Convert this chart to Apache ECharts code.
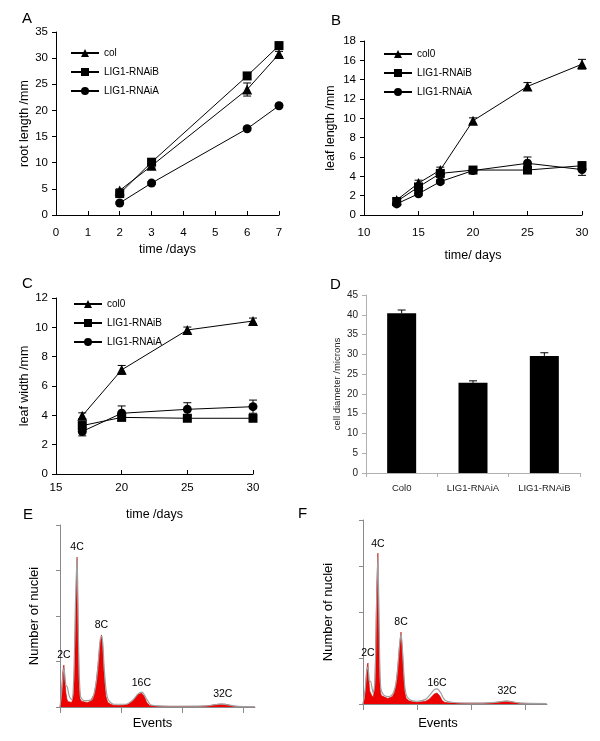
<!DOCTYPE html>
<html>
<head>
<meta charset="utf-8">
<script src="https://cdn.jsdelivr.net/npm/echarts@6/dist/echarts.min.js"></script>
<style>html,body{margin:0;padding:0;background:#fff}#c{width:600px;height:741px}</style>
</head>
<body>
<div id="c"></div>
<script>
// ---------- Panel A: root length ----------
const A_days = [2, 3, 6, 7];
const A_col = [4.7, 9.4, 24.0, 30.8];
const A_col_err = [0.3, 0.4, 1.25, 0.5];
const A_iB = [4.1, 10.1, 26.6, 32.4];
const A_iB_err = [0.3, 0.4, 0.5, 0.5];
const A_iA = [2.3, 6.1, 16.5, 20.9];
const A_iA_err = [0.2, 0.3, 0.3, 0.3];

// ---------- Panel B: leaf length ----------
const B_days = [13, 15, 17, 20, 25, 30];
const B_col0 = [1.55, 3.3, 4.65, 9.75, 13.3, 15.6];
const B_col0_err = [0.2, 0.3, 0.3, 0.3, 0.4, 0.5];
const B_iB = [1.4, 2.9, 4.3, 4.65, 4.65, 5.1];
const B_iB_err = [0.2, 0.3, 0.3, 0.3, 0.3, 0.4];
const B_iA = [1.15, 2.2, 3.45, 4.6, 5.35, 4.7];
const B_iA_err = [0.2, 0.2, 0.2, 0.3, 0.65, 0.6];

// ---------- Panel C: leaf width ----------
const C_days = [17, 20, 25, 30];
const C_col0 = [3.97, 7.1, 9.82, 10.43];
const C_col0_err = [0.2, 0.3, 0.2, 0.2];
const C_iB = [3.3, 3.86, 3.8, 3.8];
const C_iB_err = [0.3, 0.2, 0.2, 0.2];
const C_iA = [2.9, 4.14, 4.41, 4.59];
const C_iA_err = [0.3, 0.5, 0.45, 0.45];

// ---------- Panel D: cell diameter ----------
const D_cats = ['Col0', 'LIG1-RNAiA', 'LIG1-RNAiB'];
const D_vals = [40.4, 22.8, 29.6];
const D_err = [0.8, 0.5, 0.8];

// ---------- Panel E: ploidy histogram ----------
const E_channel = [0,4,8,12,16,20,24,28,32,40,48,52,56,60,65,70,74,78,82,88,100,112,124,132,140,148,156,164,170,175,181,188,196,208,220,240,260,280,296,308,320,334,345,356,368,400,480,560,600,632,656,676,690,710,740,800];
const E_count   = [0,20,120,200,231,150,80,45,30,25,25,40,70,220,550,824,450,120,45,32,28,25,30,40,70,130,230,350,396,330,180,60,25,15,10,8,10,15,30,50,68,77,60,25,8,4,3,3,5,12,16,16,12,4,2,1];
const E_fitChannel = [0,8,16,24,30,38,48,56,64,70,76,84,100,130,150,165,172,182,195,220,270,300,320,336,355,375,450,600,660,720,800];
const E_fitCount   = [0,100,215,120,110,60,40,150,600,820,350,60,35,40,150,370,390,200,50,15,15,40,72,82,45,10,4,6,16,5,1];

// ---------- Panel F: ploidy histogram ----------
const F_channel = [0,8,14,19,23,27,31,35,39,43,47,51,55,59,64,69,73,77,81,86,95,105,115,125,135,145,152,160,168,176,182,188,194,200,212,230,250,270,290,305,318,330,343,355,367,380,420,480,550,600,630,650,667,685,705,730,780,850];
const F_count   = [0,30,120,200,223,130,70,60,50,40,35,40,90,300,650,820,500,150,60,45,40,35,30,35,40,60,100,180,300,391,300,160,60,30,18,12,10,12,15,25,40,55,60,45,18,8,5,4,4,6,10,14,16,14,8,3,2,1];
const F_fitChannel = [0,10,20,25,30,35,40,47,55,62,69,75,82,95,120,140,155,170,176,185,195,210,250,290,310,330,343,360,380,420,500,600,660,720,850];
const F_fitCount   = [0,80,200,180,120,125,100,60,120,500,800,400,90,50,40,60,130,330,380,250,80,30,15,25,50,78,82,60,20,8,5,8,16,6,2];

const ploidy = ['2C', '4C', '8C', '16C', '32C'];
const E_peakCh = [16, 70, 170, 334, 668];
const E_peakCount = [231, 824, 396, 77, 16];
const F_peakCh = [23, 69, 176, 343, 667];
const F_peakCount = [223, 820, 391, 60, 16];

const FONT = 'Liberation Sans, Arial, Helvetica, sans-serif';
const chart = echarts.init(document.getElementById('c'), null, {renderer: 'canvas'});

function pairs(xs, ys) { return xs.map((x, i) => [x, ys[i]]); }
function triples(xs, ys, es) { return xs.map((x, i) => [x, ys[i], es[i]]); }

function errRender(params, api) {
  const x = api.value(0), y = api.value(1), e = api.value(2);
  const top = api.coord([x, y + e]);
  const bot = api.coord([x, y - e]);
  const w = 4;
  const st = {stroke: '#000', lineWidth: 1};
  return {type: 'group', children: [
    {type: 'line', shape: {x1: top[0], y1: top[1], x2: bot[0], y2: bot[1]}, style: st},
    {type: 'line', shape: {x1: top[0] - w, y1: top[1], x2: top[0] + w, y2: top[1]}, style: st},
    {type: 'line', shape: {x1: bot[0] - w, y1: bot[1], x2: bot[0] + w, y2: bot[1]}, style: st}
  ]};
}
function barErrRender(params, api) {
  const x = api.value(0), y = api.value(1), e = api.value(2);
  const top = api.coord([x, y + e]);
  const mid = api.coord([x, y]);
  const w = 4;
  const st = {stroke: '#000', lineWidth: 1};
  return {type: 'group', children: [
    {type: 'line', shape: {x1: top[0], y1: top[1], x2: mid[0], y2: mid[1]}, style: st},
    {type: 'line', shape: {x1: top[0] - w, y1: top[1], x2: top[0] + w, y2: top[1]}, style: st}
  ]};
}

function lineSeries(name, xi, xs, ys, sym, size) {
  return {
    type: 'line', name: name, xAxisIndex: xi, yAxisIndex: xi,
    data: pairs(xs, ys), symbol: sym, symbolSize: size, showSymbol: true,
    itemStyle: {color: '#000'}, lineStyle: {color: '#000', width: 1},
    emphasis: {disabled: true}, z: 3
  };
}
function errSeries(xi, xs, ys, es) {
  return {
    type: 'custom', xAxisIndex: xi, yAxisIndex: xi, renderItem: errRender,
    data: triples(xs, ys, es), encode: {x: 0, y: 1}, z: 2, silent: true
  };
}

const axisBlack = {lineStyle: {color: '#000', width: 1}};
const labelStyle = {color: '#000', fontSize: 11.5, fontFamily: FONT};
const nameStyle = {color: '#000', fontSize: 12.5, fontFamily: FONT};

function xLine(gi, min, max, interval, name, gap, lblMargin) {
  return {
    type: 'value', gridIndex: gi, min: min, max: max, interval: interval,
    axisLine: axisBlack, axisTick: {show: true, inside: true, length: 4, lineStyle: {color: '#000'}},
    splitLine: {show: false}, axisLabel: Object.assign({margin: lblMargin}, labelStyle),
    name: name, nameLocation: 'middle', nameGap: gap, nameTextStyle: nameStyle
  };
}
function yLine(gi, min, max, interval, name, gap) {
  return {
    type: 'value', gridIndex: gi, min: min, max: max, interval: interval,
    axisLine: {show: true, lineStyle: {color: '#000', width: 1}},
    axisTick: {show: true, inside: false, length: 4, lineStyle: {color: '#000'}},
    splitLine: {show: false}, axisLabel: Object.assign({margin: 8}, labelStyle),
    name: name, nameLocation: 'middle', nameGap: gap, nameRotate: 90, nameTextStyle: nameStyle
  };
}
function histX(gi, max, shiftLeft, gap) {
  return {
    type: 'value', gridIndex: gi, min: 0, max: max,
    axisLine: {lineStyle: {color: '#8a8a8a', width: 1}},
    axisTick: {show: true, inside: false, length: 6, lineStyle: {color: '#8a8a8a'}, customValues: [0, 250, 500, 750]},
    axisLabel: {show: false}, splitLine: {show: false},
    name: 'Events', nameLocation: 'middle', nameGap: gap,
    nameTextStyle: {color: '#000', fontSize: 13, fontFamily: FONT, padding: [0, shiftLeft, 0, 0]}
  };
}
function histY(gi, gap) {
  return {
    type: 'value', gridIndex: gi, min: 0, max: 1000, interval: 250,
    axisLine: {show: true, lineStyle: {color: '#8a8a8a', width: 1}},
    axisTick: {show: true, inside: false, length: 4, lineStyle: {color: '#8a8a8a'}},
    axisLabel: {show: false}, splitLine: {show: false},
    name: 'Number of nuclei', nameLocation: 'middle', nameGap: gap, nameRotate: 90,
    nameTextStyle: {color: '#000', fontSize: 13, fontFamily: FONT}
  };
}
function histSeries(xi, chs, cnts, peakCh, peakCnt) {
  return {
    type: 'line', xAxisIndex: xi, yAxisIndex: xi, data: pairs(chs, cnts),
    symbol: 'none', lineStyle: {color: '#c40000', width: 0.6},
    areaStyle: {color: '#ee0000', opacity: 1}, silent: true, z: 2,
    markPoint: {
      symbol: 'circle', symbolSize: 0, silent: true,
      label: {show: true, position: 'top', distance: 4, color: '#000', fontSize: 10.5, fontFamily: FONT, formatter: p => p.name},
      data: ploidy.map((t, i) => ({name: t, coord: [peakCh[i], peakCnt[i]]}))
    }
  };
}
function fitSeries(xi, chs, cnts) {
  return {
    type: 'line', xAxisIndex: xi, yAxisIndex: xi, data: pairs(chs, cnts),
    symbol: 'none', smooth: 0.3, lineStyle: {color: '#a0a0a0', width: 1.2}, silent: true, z: 3
  };
}

function legendAt(left, top, names) {
  return {
    data: names, orient: 'vertical', left: left, top: top, padding: 0,
    itemWidth: 28, itemHeight: 10, itemGap: 9,
    selectedMode: false, textStyle: {color: '#000', fontSize: 10, fontFamily: FONT}
  };
}
function letter(t, left, top) {
  return {text: t, left: left, top: top, padding: 0, textStyle: {fontSize: 15, fontWeight: 'normal', color: '#000', fontFamily: FONT}};
}

const option = {
  animation: false,
  backgroundColor: '#fff',
  title: [letter('A', 22, 11), letter('B', 331, 13), letter('C', 22, 276), letter('D', 330, 277), letter('E', 23, 507), letter('F', 298, 506)],
  legend: [
    legendAt(70, 48, ['col', 'LIG1-RNAiB', 'LIG1-RNAiA']),
    legendAt(383, 49, ['col0', 'LIG1-RNAiB', 'LIG1-RNAiA']),
    legendAt(73, 299, ['col0', 'LIG1-RNAiB', 'LIG1-RNAiA'])
  ],
  grid: [
    {left: 56, top: 32, width: 223, height: 183},
    {left: 364, top: 41, width: 218, height: 174},
    {left: 56, top: 298, width: 197, height: 176},
    {left: 366, top: 295, width: 214, height: 178},
    {left: 60, top: 525, width: 195, height: 182},
    {left: 363, top: 520, width: 184, height: 184}
  ],
  xAxis: [
    xLine(0, 0, 7, 1, 'time /days', 28, 12),
    xLine(1, 10, 30, 5, 'time/ days', 34, 12),
    xLine(2, 15, 30, 5, 'time /days', 34, 8),
    {
      type: 'category', gridIndex: 3, data: D_cats,
      axisLine: {lineStyle: {color: '#b0b0b0', width: 1}},
      axisTick: {show: true, inside: false, length: 4, lineStyle: {color: '#b0b0b0'}},
      axisLabel: {color: '#222', fontSize: 9.5, fontFamily: FONT, margin: 10}
    },
    histX(4, 800, 10, 10),
    histX(5, 852, 34, 13)
  ],
  yAxis: [
    yLine(0, 0, 35, 5, 'root length /mm', 21),
    yLine(1, 0, 18, 2, 'leaf length /mm', 27),
    yLine(2, 0, 12, 2, 'leaf width /mm', 21),
    {
      type: 'value', gridIndex: 3, min: 0, max: 45, interval: 5,
      axisLine: {show: true, lineStyle: {color: '#b0b0b0', width: 1}},
      axisTick: {show: true, inside: false, length: 4, lineStyle: {color: '#b0b0b0'}},
      splitLine: {show: false},
      axisLabel: {color: '#222', fontSize: 10, fontFamily: FONT, margin: 8},
      name: 'cell diameter /microns', nameLocation: 'middle', nameGap: 24, nameRotate: 90,
      nameTextStyle: {color: '#222', fontSize: 9.5, fontFamily: FONT}
    },
    histY(4, 19),
    histY(5, 28)
  ],
  series: [
    lineSeries('col', 0, A_days, A_col, 'triangle', 10),
    lineSeries('LIG1-RNAiB', 0, A_days, A_iB, 'rect', 9),
    lineSeries('LIG1-RNAiA', 0, A_days, A_iA, 'circle', 9),
    errSeries(0, A_days, A_col, A_col_err),
    errSeries(0, A_days, A_iB, A_iB_err),
    errSeries(0, A_days, A_iA, A_iA_err),

    lineSeries('col0', 1, B_days, B_col0, 'triangle', 10),
    lineSeries('LIG1-RNAiB', 1, B_days, B_iB, 'rect', 9),
    lineSeries('LIG1-RNAiA', 1, B_days, B_iA, 'circle', 9),
    errSeries(1, B_days, B_col0, B_col0_err),
    errSeries(1, B_days, B_iB, B_iB_err),
    errSeries(1, B_days, B_iA, B_iA_err),

    lineSeries('col0', 2, C_days, C_col0, 'triangle', 10),
    lineSeries('LIG1-RNAiB', 2, C_days, C_iB, 'rect', 9),
    lineSeries('LIG1-RNAiA', 2, C_days, C_iA, 'circle', 9),
    errSeries(2, C_days, C_col0, C_col0_err),
    errSeries(2, C_days, C_iB, C_iB_err),
    errSeries(2, C_days, C_iA, C_iA_err),

    {
      type: 'bar', xAxisIndex: 3, yAxisIndex: 3, data: D_vals, barWidth: 29,
      itemStyle: {color: '#000'}, silent: true
    },
    {
      type: 'custom', xAxisIndex: 3, yAxisIndex: 3, renderItem: barErrRender,
      data: D_vals.map((v, i) => [i, v, D_err[i]]), encode: {x: 0, y: 1}, z: 3, silent: true
    },

    histSeries(4, E_channel, E_count, E_peakCh, E_peakCount),
    fitSeries(4, E_fitChannel, E_fitCount),
    histSeries(5, F_channel, F_count, F_peakCh, F_peakCount),
    fitSeries(5, F_fitChannel, F_fitCount)
  ]
};
chart.setOption(option);
</script>
</body>
</html>
